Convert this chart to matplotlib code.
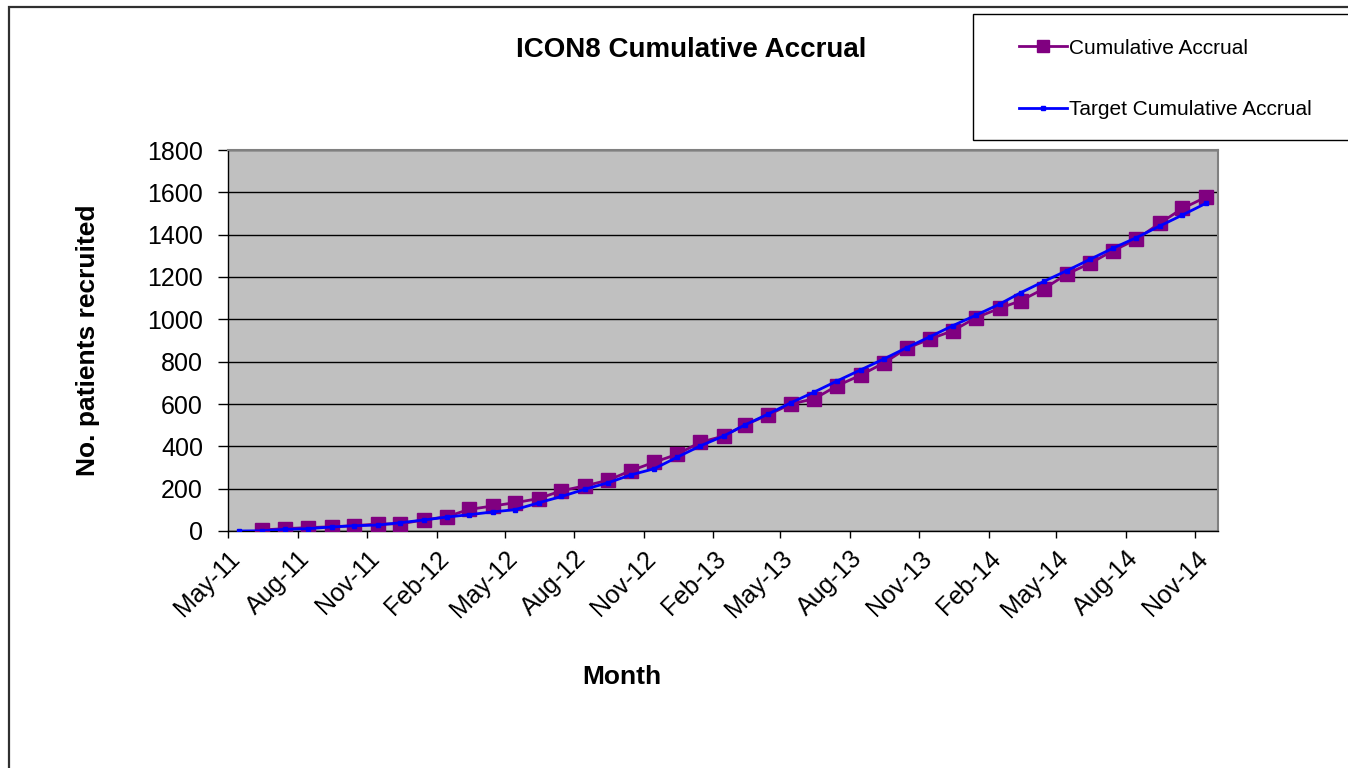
#Libraries
import numpy as np
import pandas as pd
import matplotlib
matplotlib.use('Agg')
import matplotlib.pyplot as plt
import matplotlib.dates as mdates
from matplotlib.patches import Rectangle

plt.rcParams['font.family'] = ['Liberation Sans', 'DejaVu Sans']

#Data (monthly)
target_months = pd.date_range('2011-05-01', '2014-11-01', freq='MS') + pd.Timedelta(days=14)
accrual_months = target_months[1:]

target = [0, 1, 8, 11, 19, 25, 28, 39,
          52, 66, 77, 90, 101, 133, 163, 197, 228, 265, 294, 348,
          402, 449, 501, 553, 606, 657, 709, 761, 813, 866, 918, 970,
          1020, 1072, 1126, 1180, 1230, 1284, 1336, 1386, 1441, 1493, 1548]
accrual = [5, 11, 16, 20, 25, 33, 34,
           52, 68, 102, 118, 134, 153, 190, 213, 240, 285, 325, 362,
           419, 449, 501, 549, 600, 625, 686, 736, 794, 863, 907, 946,
           1008, 1052, 1088, 1145, 1214, 1265, 1324, 1378, 1454, 1524, 1577]

W, H = 1348, 768
fig = plt.figure(figsize=(W/100, H/100), dpi=100)
ax = fig.add_axes([228/W, 1-531/H, (1218-228)/W, (531-150)/H])
ax.set_facecolor('#C0C0C0')

#Plot data
ax.plot(accrual_months, accrual, color='#800080', lw=2, marker='s', ms=9.5,
        label='Cumulative Accrual', zorder=3)
ax.plot(target_months, target, color='#0000FF', lw=2, marker='s', ms=3.5,
        label='Target Cumulative Accrual', zorder=4)

ax.set_ylim(0, 1800)
ax.set_yticks(range(0, 1801, 200))
ax.grid(axis='y', color='black', lw=1)
ax.set_axisbelow(True)
ax.set_xlim(pd.Timestamp('2011-05-01'), pd.Timestamp('2014-12-01'))
ax.xaxis.set_major_locator(mdates.MonthLocator(bymonth=[2, 5, 8, 11]))
ax.xaxis.set_major_formatter(mdates.DateFormatter('%b-%y'))

ax.tick_params(axis='y', direction='out', length=7, width=1, pad=11, labelsize=18)
ax.tick_params(axis='x', direction='out', length=5, width=1, pad=6, labelsize=18)
for lbl in ax.get_xticklabels():
    lbl.set_rotation(45)
    lbl.set_ha('right')
    lbl.set_va('top')
    lbl.set_rotation_mode('anchor')

for s in ['top', 'right']:
    ax.spines[s].set_color('#808080')
    ax.spines[s].set_linewidth(1.5)
for s in ['left', 'bottom']:
    ax.spines[s].set_color('black')
    ax.spines[s].set_linewidth(1)

#Titles
fig.text(691/W, 1-50/H, 'ICON8 Cumulative Accrual', ha='center', va='center',
         fontsize=20, fontweight='bold')
fig.text(88/W, 1-340/H, 'No. patients recruited', ha='center', va='center',
         rotation=90, fontsize=19, fontweight='bold')
fig.text(622/W, 1-677/H, 'Month', ha='center', va='center',
         fontsize=19, fontweight='bold')

#Outer frame and legend box
fig.patches.append(Rectangle((8.5/W, -0.1), 1.2, 1.1-6.5/H, transform=fig.transFigure,
                             fill=False, edgecolor='#303030', lw=1.6))
fig.patches.append(Rectangle((973/W, 1-140/H), 0.3, (140-14)/H, transform=fig.transFigure,
                             facecolor='white', edgecolor='black', lw=1, zorder=5))
leg = fig.legend(loc='center left', bbox_to_anchor=(1019/W, 1-79/H), frameon=False,
                 fontsize=15, handlelength=2.3, handletextpad=0.1, labelspacing=2.05,
                 borderpad=0, borderaxespad=0, markerscale=0.9)
leg.set_zorder(6)

plt.savefig('out.png', dpi=100)
